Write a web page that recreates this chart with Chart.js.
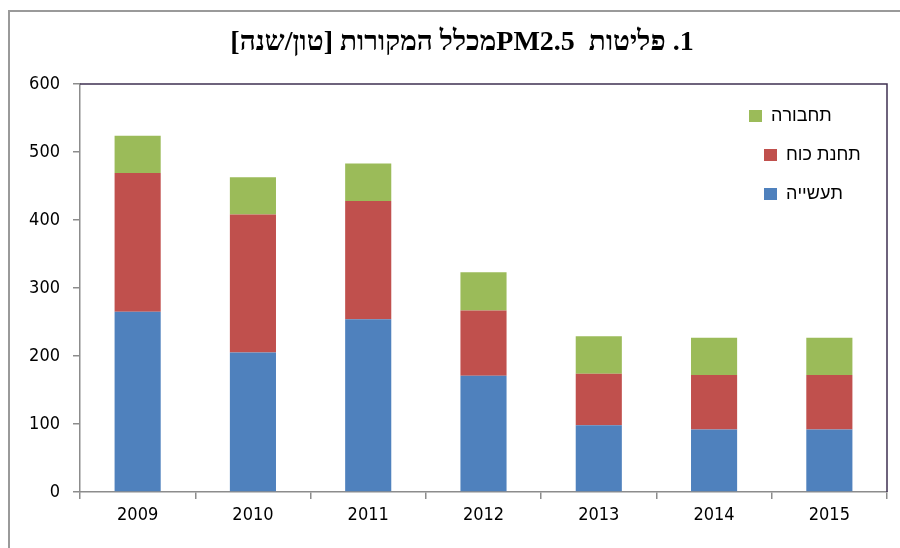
<!DOCTYPE html>
<html>
<head>
<meta charset="utf-8">
<script src="https://cdn.jsdelivr.net/npm/chart.js@4"></script>
<style>
    html, body { margin: 0; padding: 0; background: #fff; overflow: hidden; }
    #frame { position: absolute; left: 8px; top: 10px; width: 1000px; height: 1000px; border: 2px solid #9a9a9a; }
    #wrap { position: absolute; left: 0; top: 0; width: 900px; height: 548px; }
</style>
</head>
<body>
<div id="frame"></div>
<div id="wrap"><canvas id="myChart" width="900" height="548"></canvas></div>
<script>
const years = ['2009', '2010', '2011', '2012', '2013', '2014', '2015'];
const industry = [265, 205, 254, 171, 98, 92, 92];
const power = [204, 203, 174, 96, 76, 80, 80];
const transport = [55, 55, 55, 56, 55, 55, 55];
const seriesNames = ['תעשייה', 'תחנת כוח', 'תחבורה'];
const titleText = '1. פליטות  PM2.5מכלל המקורות [טון/שנה]';

// bidi in this canvas is not reliable, so right-to-left text is placed
// piece by piece from the right edge (latin/number runs stay whole)
const mirror = { '[': ']', ']': '[', '(': ')', ')': '(' };
function rtlPieces(text) {
    return text.match(/[A-Za-z0-9]+(?:\.[A-Za-z0-9]+)*|[^]/g).map(p => mirror[p] || p);
}
function rtlWidth(ctx, text) {
    return rtlPieces(text).reduce((s, p) => s + ctx.measureText(p).width, 0);
}
function drawRtl(ctx, text, right, y) {
    let x = right;
    ctx.textAlign = 'left';
    rtlPieces(text).forEach(function (p) {
        const w = ctx.measureText(p).width;
        x -= w;
        ctx.fillText(p, x, y);
    });
}

const extras = {
    id: 'extras',
    afterDatasetsDraw(chart) {
        const ctx = chart.ctx;
        const a = chart.chartArea;
        ctx.save();
        // top + right border of the plot area
        ctx.strokeStyle = '#3f3151';
        ctx.lineWidth = 1.5;
        ctx.beginPath();
        ctx.moveTo(a.left, a.top);
        ctx.lineTo(a.right, a.top);
        ctx.lineTo(a.right, a.bottom);
        ctx.stroke();

        // title
        ctx.fillStyle = '#000';
        ctx.textBaseline = 'middle';
        ctx.font = 'bold 28px "Liberation Serif", "DejaVu Serif"';
        const tw = rtlWidth(ctx, titleText);
        drawRtl(ctx, titleText, 462 + tw / 2, 43);

        // legend
        const ds = chart.data.datasets.slice().reverse();
        const ys = [116, 155, 194];
        const xs = [a.right - 138, a.right - 123, a.right - 123];
        ctx.font = '18px "Liberation Sans", "DejaVu Sans"';
        ds.forEach(function (d, i) {
            ctx.fillStyle = d.backgroundColor;
            ctx.fillRect(xs[i], ys[i] - 6, 13, 12);
            ctx.fillStyle = '#000';
            drawRtl(ctx, d.label, xs[i] + 22 + rtlWidth(ctx, d.label), ys[i]);
        });
        ctx.restore();
    }
};

const ctx = document.getElementById('myChart').getContext('2d');
new Chart(ctx, {
    type: 'bar',
    data: {
        labels: years,
        datasets: [
            { label: seriesNames[0], data: industry, backgroundColor: '#4f81bd' },
            { label: seriesNames[1], data: power, backgroundColor: '#c0504d' },
            { label: seriesNames[2], data: transport, backgroundColor: '#9bbb59' }
        ]
    },
    options: {
        responsive: false,
        animation: false,
        layout: { padding: { left: 0, right: 13, top: 84, bottom: 0 } },
        datasets: { bar: { categoryPercentage: 1, barPercentage: 0.4 } },
        plugins: {
            legend: { display: false },
            tooltip: { enabled: false },
            title: { display: false }
        },
        scales: {
            x: {
                stacked: true,
                grid: { offset: true, drawOnChartArea: false, tickLength: 7, tickColor: '#8c8c8c', lineWidth: 1.5 },
                border: { color: '#8c8c8c', width: 1.5 },
                ticks: { color: '#000', padding: 6, font: { family: '"DejaVu Sans Condensed", "DejaVu Sans"', size: 18 } },
                afterFit(scale) { scale.height = 56; }
            },
            y: {
                stacked: true,
                min: 0,
                max: 600,
                grid: {
                    drawOnChartArea: true,
                    color: 'transparent',
                    tickLength: 7,
                    tickColor: '#8c8c8c',
                    lineWidth: 1.5
                },
                border: { color: '#8c8c8c', width: 1.5 },
                ticks: { stepSize: 100, color: '#000', padding: 13, font: { family: '"DejaVu Sans Condensed", "DejaVu Sans"', size: 18 } },
                afterFit(scale) { scale.width = 80; }
            }
        }
    },
    plugins: [extras]
});
</script>
</body>
</html>
